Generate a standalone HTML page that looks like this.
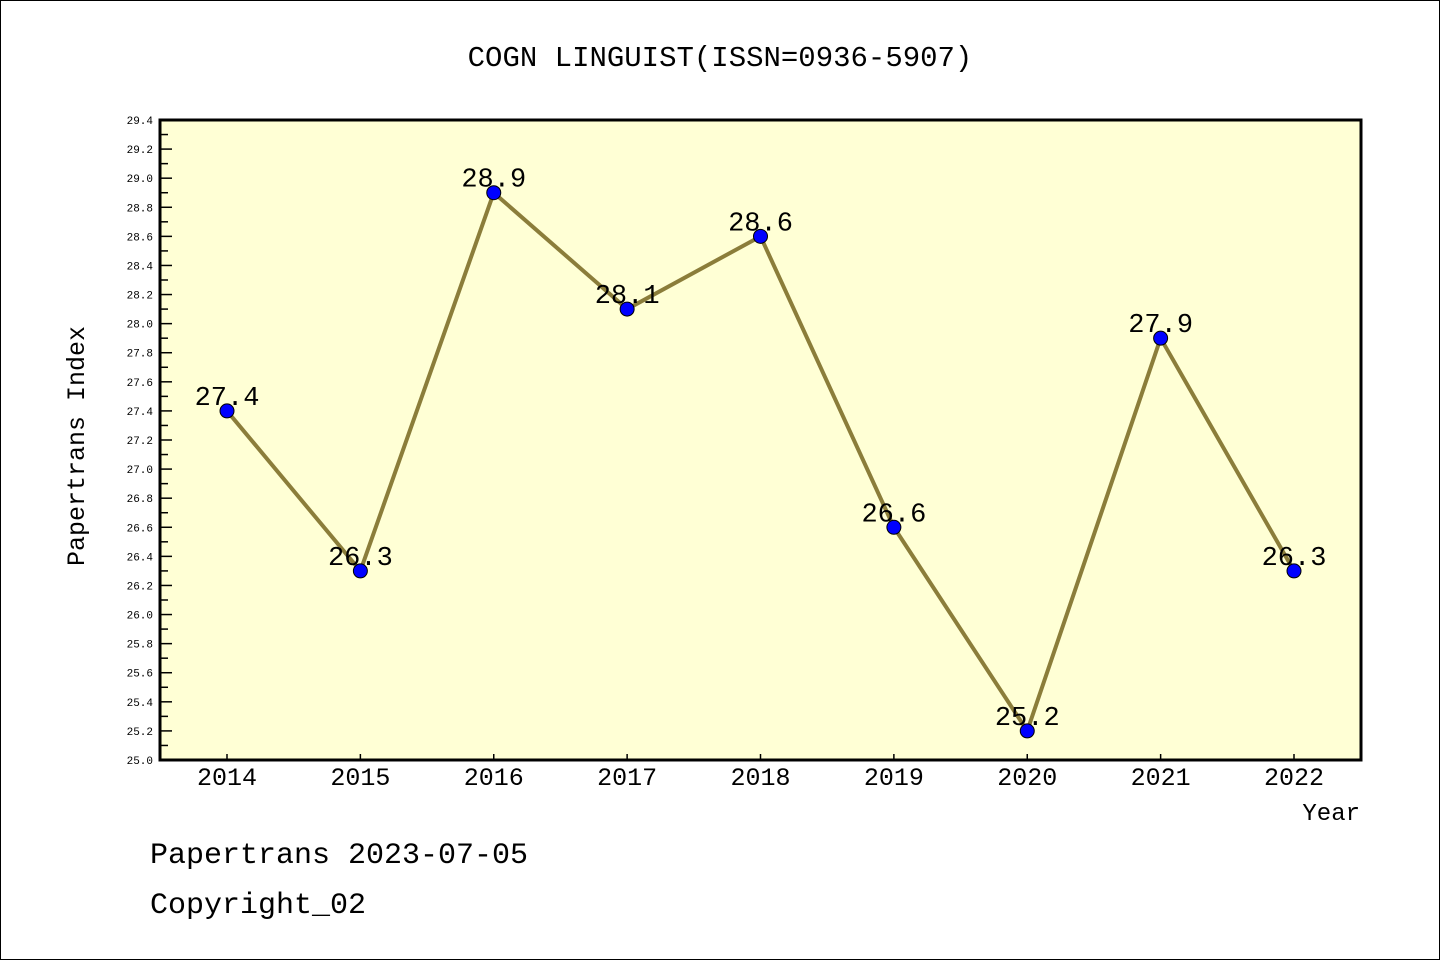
<!DOCTYPE html>
<html><head><meta charset="utf-8"><style>
body{margin:0;background:#fff}
svg text{font-family:"Liberation Mono",monospace}
</style></head><body>
<svg width="1440" height="960" xmlns="http://www.w3.org/2000/svg">
<rect x="0.5" y="0.5" width="1439" height="959" fill="#fff" stroke="#000"/>
<text x="720" y="66" font-size="29" text-anchor="middle">COGN LINGUIST(ISSN=0936-5907)</text>
<rect x="160" y="120" width="1201" height="640" fill="#ffffd5"/>
<g id="yaxis"></g>
<g id="xaxis"></g>
<g id="series"></g>
<rect x="160" y="120" width="1201" height="640" fill="none" stroke="#000" stroke-width="3"/>
<text transform="translate(84,446) rotate(-90)" font-size="25" text-anchor="middle">Papertrans Index</text>
<text x="1360" y="820" font-size="24" text-anchor="end">Year</text>
<text x="150" y="863" font-size="30">Papertrans 2023-07-05</text>
<text x="150" y="913" font-size="30">Copyright_02</text>
</svg>
<script>
const years=["2014","2015","2016","2017","2018","2019","2020","2021","2022"];
const values=[27.4,26.3,28.9,28.1,28.6,26.6,25.2,27.9,26.3];
const yTicks=[25.0,25.2,25.4,25.6,25.8,26.0,26.2,26.4,26.6,26.8,27.0,27.2,27.4,27.6,27.8,28.0,28.2,28.4,28.6,28.8,29.0,29.2,29.4];
const NS="http://www.w3.org/2000/svg";
const yMin=25.0,yMax=29.4,plotTop=120,plotBot=760,plotLeft=160;
function ys(v){return plotBot-(v-yMin)/(yMax-yMin)*(plotBot-plotTop);}
function xs(i){return 227+i*(1294-227)/(years.length-1);}
function mk(tag,attrs,parent){const e=document.createElementNS(NS,tag);for(const k in attrs)e.setAttribute(k,attrs[k]);parent.appendChild(e);return e;}
const ya=document.getElementById('yaxis'),xa=document.getElementById('xaxis'),sg=document.getElementById('series');
yTicks.forEach((t,i)=>{
  const y=ys(t);
  const l=mk('line',{x1:plotLeft,x2:plotLeft+12,y1:y,y2:y,stroke:'#000','stroke-width':1.5},ya);
  
  
  const tx=mk('text',{x:153,y:y+4,'font-size':11,'text-anchor':'end'},ya);
  tx.textContent=t.toFixed(1);
  
  
  if(i<yTicks.length-1){
    const ym=ys(t+0.1);
    const m=mk('line',{x1:plotLeft,x2:plotLeft+8,y1:ym,y2:ym,stroke:'#000','stroke-width':1.5},ya);
    
    
  }
});
years.forEach((yr,i)=>{
  const x=xs(i);
  const l=mk('line',{x1:x,x2:x,y1:plotBot,y2:plotBot-6,stroke:'#000','stroke-width':1.5},xa);
  
  
  const tx=mk('text',{x:x,y:785,'font-size':25,'text-anchor':'middle'},xa);
  tx.textContent=yr;
  
  
});
const pts=values.map((v,i)=>xs(i)+','+ys(v)).join(' ');
const pl=mk('polyline',{points:pts,fill:'none',stroke:'#8b7d3a','stroke-width':4},sg);


values.forEach((v,i)=>{
  const c=mk('circle',{cx:xs(i),cy:ys(v),r:7,fill:'#0000ff',stroke:'#000','stroke-width':1},sg);
  
  
  const t=mk('text',{x:xs(i),y:ys(v)-6,'font-size':27,'text-anchor':'middle'},sg);
  t.textContent=v.toFixed(1);
  
  
});
</script>
</body></html>
